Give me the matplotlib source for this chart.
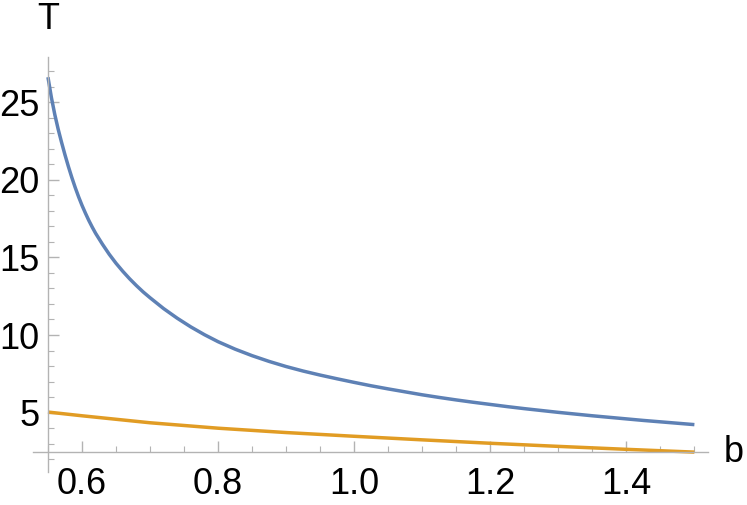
import numpy as np
import matplotlib.pyplot as plt
from matplotlib.ticker import MultipleLocator

# values
b_blue = [0.55, 0.555, 0.56, 0.565, 0.57, 0.575, 0.58, 0.585, 0.59, 0.595,
          0.60, 0.605, 0.61, 0.615, 0.62, 0.63, 0.64, 0.65, 0.66, 0.67,
          0.68, 0.69, 0.70, 0.72, 0.74, 0.76, 0.78, 0.80, 0.825, 0.85,
          0.875, 0.90, 0.925, 0.95, 0.975, 1.00, 1.025, 1.05, 1.075, 1.10,
          1.125, 1.15, 1.175, 1.20, 1.225, 1.25, 1.275, 1.30, 1.325, 1.35,
          1.375, 1.40, 1.425, 1.45, 1.475, 1.50]
T_blue = [26.6, 25.3, 24.2, 23.25, 22.4, 21.6, 20.85, 20.15, 19.5, 18.9,
          18.35, 17.85, 17.38, 16.95, 16.55, 15.85, 15.2, 14.62, 14.1, 13.62,
          13.18, 12.77, 12.4, 11.7, 11.08, 10.52, 10.02, 9.57, 9.09, 8.67,
          8.3, 7.97, 7.68, 7.42, 7.18, 6.95, 6.73, 6.53, 6.34, 6.15,
          5.98, 5.82, 5.67, 5.53, 5.39, 5.26, 5.14, 5.02, 4.91, 4.8,
          4.7, 4.6, 4.5, 4.41, 4.32, 4.23]

b_orange = [0.55, 0.6, 0.7, 0.8, 0.9, 1.0, 1.1, 1.2, 1.3, 1.4, 1.5]
T_orange = [5.04, 4.8, 4.35, 4.0, 3.72, 3.48, 3.25, 3.03, 2.83, 2.64, 2.46]

x_major = [0.6, 0.8, 1.0, 1.2, 1.4]
x_labels = ['0.6', '0.8', '1.0', '1.2', '1.4']
y_major = [5, 10, 15, 20, 25]

plt.rcParams['font.family'] = ['Liberation Sans', 'DejaVu Sans']
axis_gray = '#b3b3b3'

fig = plt.figure(figsize=(7.47, 5.05), dpi=100)
ax = fig.add_axes([33 / 747, 33 / 505, 675 / 747, 415 / 505])

ax.plot(b_blue, T_blue, color='#5e81b5', lw=2.5, solid_capstyle='butt',
        solid_joinstyle='round')
ax.plot(b_orange, T_orange, color='#e19c24', lw=2.5, solid_capstyle='butt',
        solid_joinstyle='round')

ax.set_xlim(0.528, 1.52)
ax.set_ylim(1.18, 27.9)

ax.spines['top'].set_visible(False)
ax.spines['right'].set_visible(False)
ax.spines['left'].set_position(('data', 0.55))
ax.spines['bottom'].set_position(('data', 2.46))
for s in ('left', 'bottom'):
    ax.spines[s].set_color(axis_gray)
    ax.spines[s].set_linewidth(1.0)

ax.set_xticks(x_major)
ax.set_xticklabels(x_labels)
ax.set_yticks(y_major)
ax.xaxis.set_minor_locator(MultipleLocator(0.05))
ax.yaxis.set_minor_locator(MultipleLocator(1))

ax.tick_params(axis='both', which='both', direction='in', color=axis_gray,
               labelsize=26, labelcolor='black')
ax.tick_params(axis='both', which='major', length=8, width=1)
ax.tick_params(axis='both', which='minor', length=4.5, width=0.8)
ax.tick_params(axis='x', which='major', pad=11)
ax.tick_params(axis='y', which='major', pad=6)

ax.text(0.55, 30.3, 'T', fontsize=26, ha='center', va='center',
        transform=ax.transData, clip_on=False)
ax.text(1.543, 2.46, 'b', fontsize=26, ha='left', va='center',
        transform=ax.transData, clip_on=False)

fig.savefig('out.png', dpi=100)
